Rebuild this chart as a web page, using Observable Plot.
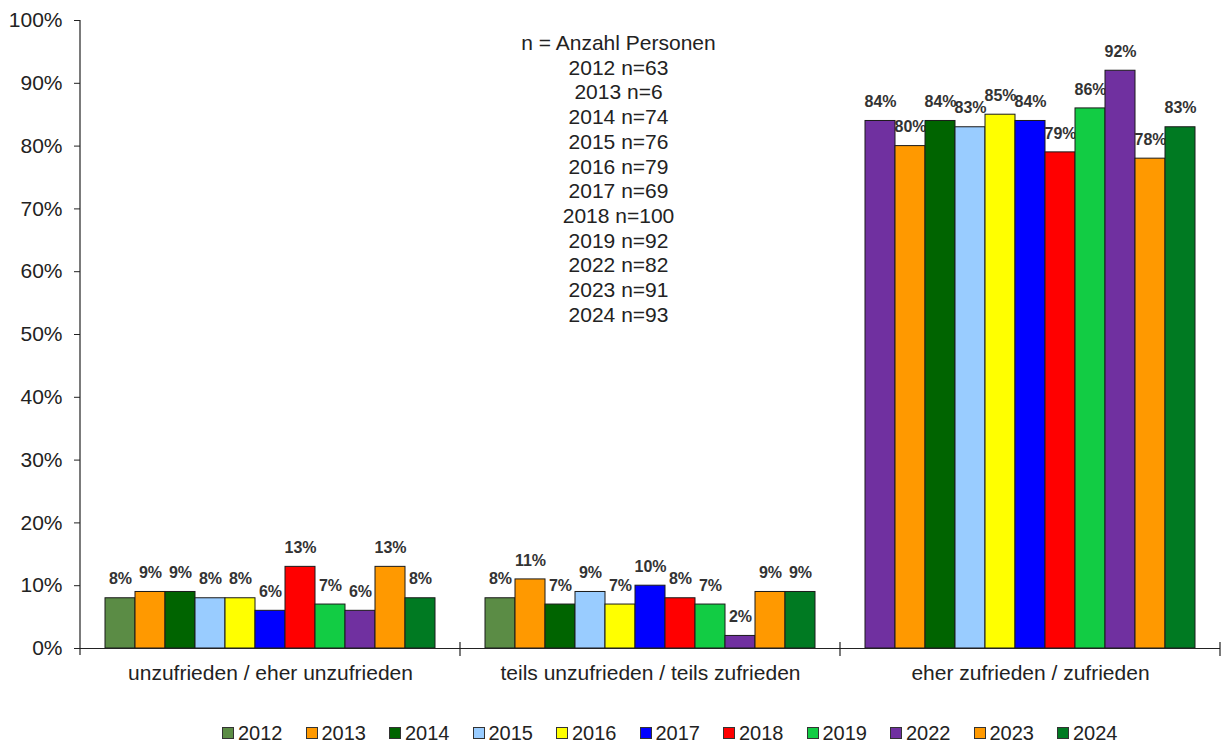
<!DOCTYPE html>
<html>
<head>
<meta charset="utf-8">
<script src="https://cdn.jsdelivr.net/npm/d3@7"></script>
<script src="https://cdn.jsdelivr.net/npm/@observablehq/plot@0.6"></script>
<style>
  html, body { margin: 0; padding: 0; background: #fff; }
  body { width: 1223px; height: 746px; overflow: hidden; font-family: "Liberation Sans", Arial, sans-serif; }
  #legend { height: 46px; box-sizing: border-box; padding-top: 20px; padding-left: 222px; display: flex; align-items: center; gap: 23px; font-size: 20px; color: #222; }
  #legend .item { display: flex; align-items: center; line-height: 24px; }
  #legend .sw { width: 12px; height: 12px; box-sizing: border-box; border: 1px solid #333; margin-right: 4px; }
</style>
</head>
<body>
<div id="chart"></div>
<div id="legend"></div>
<script>
// ---- data ----
const categories = [
  "unzufrieden / eher unzufrieden",
  "teils unzufrieden / teils zufrieden",
  "eher zufrieden / zufrieden"
];
const years = ["2012","2013","2014","2015","2016","2017","2018","2019","2022","2023","2024"];
const unzufrieden = [8, 9, 9, 8, 8, 6, 13, 7, 6, 13, 8];
const teils = [8, 11, 7, 9, 7, 10, 8, 7, 2, 9, 9];
const zufrieden = [84, 80, 84, 83, 85, 84, 79, 86, 92, 78, 83];
const nCounts = [63, 6, 74, 76, 79, 69, 100, 92, 82, 91, 93];
const yTicks = [0, 10, 20, 30, 40, 50, 60, 70, 80, 90, 100];

// ---- styles ----
const yearColors = ["#5b8c45","#ff9900","#006400","#99ccff","#ffff00","#0000ff","#ff0000","#12cc44","#7030a0","#ff9900","#007a22"];
// the original chart shows the 2012 bar of the last group in purple
const colorOverrides = {"eher zufrieden / zufrieden|2012": "#7030a0"};

const series = [unzufrieden, teils, zufrieden];
const data = [];
categories.forEach((c, ci) => years.forEach((y, yi) => data.push({category: c, year: y, value: series[ci][yi]})));
const colorOf = d => colorOverrides[d.category + "|" + d.year] || yearColors[years.indexOf(d.year)];

const noteLines = ["n = Anzahl Personen"].concat(years.map((y, i) => `${y} n=${nCounts[i]}`));

const plot = Plot.plot({
  width: 1223,
  height: 700,
  marginLeft: 80,
  marginRight: 3,
  marginTop: 20,
  marginBottom: 52,
  style: {fontFamily: "'Liberation Sans', Arial, sans-serif", fontSize: "21px", color: "#222", background: "#fff"},
  fx: {domain: categories, padding: 0, axis: null},
  x: {domain: years, paddingInner: 0, paddingOuter: 0.74, axis: null},
  y: {domain: [0, 100], axis: null},
  marks: [
    Plot.axisY({ticks: yTicks, tickFormat: d => d + "%", tickSize: 6, tickPadding: 12, fontSize: 21, label: null}),
    Plot.axisFx({anchor: "bottom", tickSize: 0, tickPadding: 17, fontSize: 21, label: null}),
    Plot.text([noteLines.join("\n")], {
      fx: () => categories[1], frameAnchor: "top", lineAnchor: "top",
      text: d => d, dx: -32, dy: 12, lineHeight: 1.176, fontSize: 21, fill: "#222"
    }),
    Plot.text(data, {
      fx: "category", x: "year", y: "value", text: d => d.value + "%",
      dy: -19, fontSize: 16, fontWeight: "bold", fill: "#333"
    }),
    Plot.barY(data, {
      fx: "category", x: "year", y: "value",
      fill: colorOf, stroke: "#1a1a1a", strokeWidth: 1
    }),
    Plot.ruleY([0], {stroke: "#222", strokeWidth: 1.2})
  ]
});
document.getElementById("chart").appendChild(plot);

// axis line and group separator ticks, placed through the plot's own scales
const fxS = plot.scale("fx");
const yS = plot.scale("y");
const y0 = yS.apply(0);
const bounds = [];
categories.forEach(c => { bounds.push(fxS.apply(c)); bounds.push(fxS.apply(c) + fxS.bandwidth); });
const uniq = Array.from(new Set(bounds.map(v => Math.round(v * 10) / 10)));
const svg = d3.select(plot);
svg.append("line")
  .attr("x1", uniq[0]).attr("x2", uniq[0])
  .attr("y1", yS.apply(100)).attr("y2", y0 + 7)
  .attr("stroke", "#222").attr("stroke-width", 1.2);
uniq.slice(1).forEach(x => {
  svg.append("line").attr("x1", x).attr("x2", x)
    .attr("y1", y0 - 6).attr("y2", y0 + 8)
    .attr("stroke", "#222").attr("stroke-width", 1.2);
});

// legend
const legend = d3.select("#legend");
years.forEach((y, i) => {
  const it = legend.append("div").attr("class", "item");
  it.append("div").attr("class", "sw").style("background", yearColors[i]);
  it.append("span").text(y);
});
</script>
</body>
</html>
